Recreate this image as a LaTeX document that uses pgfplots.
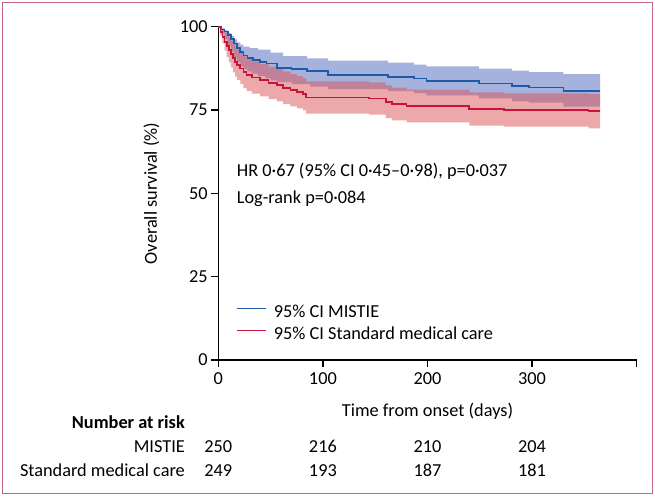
\documentclass[border=0pt]{standalone}
\usepackage{fontspec}
\setmainfont{Carlito}
\usepackage{pgfplots}
\pgfplotsset{compat=1.18}
\usepgfplotslibrary{fillbetween}
\definecolor{bline}{RGB}{31,90,166}
\definecolor{rline}{RGB}{200,20,60}
\definecolor{bband}{RGB}{75,101,189}
\definecolor{rband}{RGB}{219,81,85}
\definecolor{frame}{RGB}{200,100,140}
\begin{document}%
\begin{tikzpicture}[x=1pt,y=1pt,font=\fontsize{18.3}{21}\selectfont]
\path (0,0) rectangle (655,496);
\draw[frame, line width=1.3pt] (2.5,2.5) rectangle (652.5,493.5);
\begin{axis}[at={(218.3pt,136pt)}, anchor=south west, scale only axis,
  width=418.4pt, height=333.3pt,
  xmin=0, xmax=400, ymin=0, ymax=100,
  axis x line=bottom, axis y line=left,
  axis line style={-, line width=1.6pt, black},
  tick align=outside, major tick length=7pt,
  tick style={line width=1.5pt, black},
  xtick={0,100,200,300,400}, xticklabels={0,100,200,300,{}},
  xticklabel style={yshift=-2pt},
  ytick={0,25,50,75,100},
  /pgf/number format/assume math mode=true,
  xlabel={Time from onset (days)},
  xlabel style={at={(axis description cs:0.5,-0.170)}, anchor=base},
  ylabel={Overall survival (\%)},
  ylabel style={at={(axis description cs:-0.160,0.5)}, anchor=center},
  legend style={at={(axis cs:17.6,16.4)}, anchor=north west, draw=none, fill=none,
    inner sep=0pt, row sep=6pt, column sep=7pt,
    nodes={inner sep=0pt, anchor=west, text height=12pt, text depth=4pt}},
  legend cell align=left,
  legend image code/.code={\draw[#1, line width=1pt] (0pt,5pt) -- (29pt,5pt);},
  clip=false,
]
% blue CI band
\addplot[name path=bu, draw=none, const plot, forget plot] coordinates {
(0,100)(3,99.6)(6,99)(9,98.1)(12,97.2)(15,96.2)(18,95.3)(21,94.6)(24,94)(30,93.6)(38,93.1)(50,92.2)(62,91.2)(85,90.5)(105,89.8)(162,89.2)(187,88.6)(199,88.1)(249,87.4)(281,86.8)(297,86.4)(330,85.8)(365,85.8)};
\addplot[name path=bl, draw=none, const plot, forget plot] coordinates {
(0,100)(3,98)(6,96.3)(9,94.5)(12,92.5)(15,90.8)(18,89.3)(21,88.2)(24,87.3)(28,86.6)(32,85.9)(38,85.2)(45,84.6)(50,83.9)(56,83.4)(70,82.8)(88,82)(105,81.3)(162,80.7)(187,80.1)(199,79.4)(249,78.5)(281,77.6)(297,77.2)(330,76)(365,76)};
\addplot[bband, opacity=0.5, forget plot] fill between[of=bu and bl];
% red CI band
\addplot[name path=ru, draw=none, const plot, forget plot] coordinates {
(0,100)(2,99.5)(4,99)(6,98.3)(8,97.5)(10,96.7)(12,95.8)(14,94.9)(16,94)(18,93.2)(21,92.2)(24,91.2)(27,90.3)(32,89.6)(40,88.8)(48,88)(56,87.3)(62,86.5)(69,85.8)(75,85.2)(81,84.6)(84,83.6)(144,83.3)(160,82.4)(166,81.7)(180,81.1)(240,80.3)(273,80)(354,79.8)(365,79.8)};
\addplot[name path=rl, draw=none, const plot, forget plot] coordinates {
(0,100)(2,97.3)(4,95)(6,92.8)(8,90.9)(10,89.3)(12,87.8)(14,86.3)(16,85)(18,84)(21,82.8)(24,81.6)(27,80.7)(32,79.9)(40,79.1)(48,78.3)(56,77.6)(62,76.8)(69,76.1)(75,75.5)(81,74.9)(84,73.9)(144,73.6)(160,72.6)(166,71.9)(180,71.3)(240,70.3)(273,70)(354,69.5)(365,69.5)};
\addplot[rband, opacity=0.5, forget plot] fill between[of=ru and rl];
% KM lines
\addplot[bline, line width=1.7pt, const plot] coordinates {
(0,100)(3,99.2)(6,98.6)(9,97.6)(12,96.3)(15,95)(18,93.7)(21,92.5)(24,91.4)(28,90.7)(33,90)(40,89.5)(46,89)(56,87.7)(70,87.3)(85,86.8)(105,85.5)(162,85)(187,84.5)(199,83.8)(249,83)(281,82.2)(297,81.8)(330,80.7)(365,80.7)};
\addlegendentry{95\% CI MISTIE}
\addplot[rline, line width=1.7pt, const plot] coordinates {
(0,100)(2,98.5)(4,97)(6,95.5)(8,94.2)(10,93)(12,91.8)(14,90.6)(16,89.5)(18,88.6)(21,87.5)(24,86.4)(27,85.5)(32,84.8)(40,84)(48,83.2)(56,82.5)(62,81.7)(69,81)(75,80.4)(81,79.8)(84,78.8)(144,78.5)(160,77.5)(166,76.8)(180,76.2)(240,75.3)(273,75)(354,74.7)(365,74.7)};
\addlegendentry{95\% CI Standard medical care}
\node[anchor=west, inner sep=0pt] at (axis cs:17.6,56.5) {HR 0·67 (95\% CI 0·45–0·98), p=0·037};
\node[anchor=west, inner sep=0pt] at (axis cs:17.6,48.4) {Log-rank p=0·084};
\end{axis}
\node[anchor=base east, inner sep=0pt, font=\fontsize{18.3}{21}\selectfont\bfseries] at (185,67.7) {Number at risk};
\node[anchor=base east, inner sep=0pt] at (185,43.7) {MISTIE};
\node[anchor=base east, inner sep=0pt] at (185,19.3) {Standard medical care};
\node[anchor=base, inner sep=0pt] at (218.3,43.7) {250};
\node[anchor=base, inner sep=0pt] at (322.9,43.7) {216};
\node[anchor=base, inner sep=0pt] at (427.5,43.7) {210};
\node[anchor=base, inner sep=0pt] at (532.0,43.7) {204};
\node[anchor=base, inner sep=0pt] at (218.3,19.3) {249};
\node[anchor=base, inner sep=0pt] at (322.9,19.3) {193};
\node[anchor=base, inner sep=0pt] at (427.5,19.3) {187};
\node[anchor=base, inner sep=0pt] at (532.0,19.3) {181};
\end{tikzpicture}%
\end{document}
